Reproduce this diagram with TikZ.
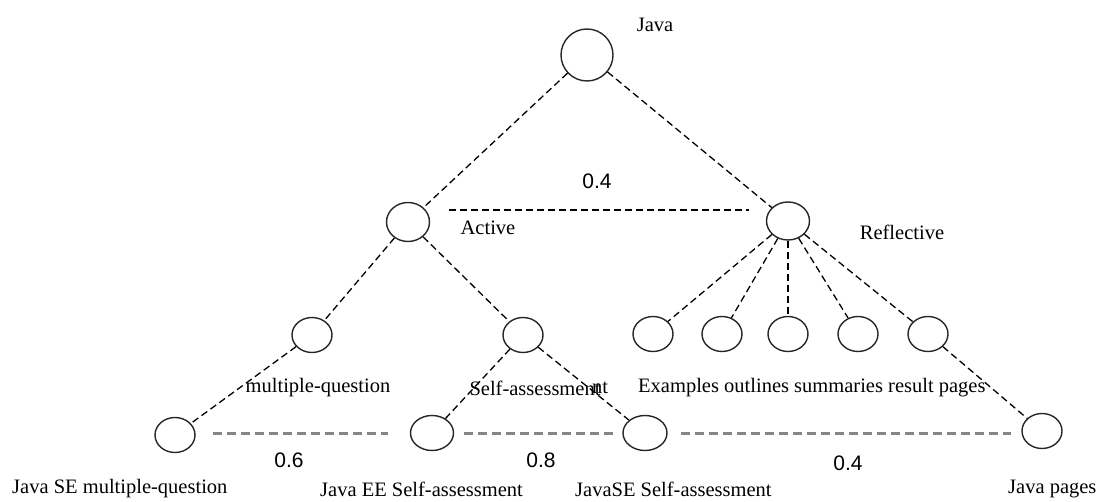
\documentclass[tikz,border=0pt]{standalone}
\usepackage{fontspec}
\setmainfont{Liberation Serif}
\newfontfamily\numfont{Liberation Sans}
\usetikzlibrary{math}
\usetikzlibrary{shapes.geometric}

\begin{document}
\begin{tikzpicture}[x=1pt,y=-1pt,
  leaf/.style={draw=black!85,line width=1.4pt,ellipse,inner sep=0pt,minimum width=40pt,minimum height=35pt},
  treeedge/.style={line width=1.3pt,dash pattern=on 7pt off 4pt},
  weightedge/.style={draw=gray!95,line width=3pt,dash pattern=on 9pt off 5pt},
  lbl/.style={font=\fontsize{20.5}{24}\selectfont,inner sep=0pt},
  wlbl/.style={font=\numfont\fontsize{21}{24}\selectfont,inner sep=0pt}]
\useasboundingbox (0,0) rectangle (1105,502);
%%%% levels
\tikzmath{
\ya=222;
\yb=335;
\yc=433;
\ylab=388;
\ybot=489;
}
%%%%%%  root
\node[leaf,minimum width=52pt,minimum height=52pt] (java) at (587,55) {};
\node[lbl] (javalbl) at (655,25) {Java};
%%%%%%  learning styles
\node[leaf,minimum width=43pt,minimum height=39pt] (active) at (408,\ya) {};
\node[leaf,minimum width=43pt,minimum height=38pt] (reflective) at (788,\ya-1) {};
\node[lbl] (activelbl) at (488,228) {Active};
\node[lbl] (reflectivelbl) at (902,232) {Reflective};
\node[wlbl] (wtop) at (597,181) {0.4};
\draw[treeedge] (java) -- (active);
\draw[treeedge] (java) -- (reflective);
\draw[treeedge] ([xshift=19pt,yshift=12pt]active.east) -- ([xshift=-17pt,yshift=11pt]reflective.west);
%%%%%%  resource types
\node[leaf] (mq) at (312,\yb) {};
\node[leaf] (sa) at (523,\yb) {};
\foreach \i/\x in {1/653,2/722,3/788,4/858,5/928} {
    \node[leaf] (r\i) at (\x,\yb-1) {};
    \draw[treeedge] (reflective) -- (r\i);
}
\draw[treeedge] (active) -- (mq);
\draw[treeedge] (active) -- (sa);
\node[lbl] (mqlbl) at (318,\ylab) {multiple-question};
\node[lbl] (salbl) at (535,\ylab) {Self-assessment};
\node[lbl] (ntlbl) at (600,\ylab) {nt};
\node[lbl,anchor=west] (reslbl) at (638,\ylab) {Examples outlines summaries result pages};
%%%%%%  learning objects
\node[leaf] (jse) at (175,\yc+2) {};
\node[leaf,minimum width=43pt] (jee) at (432,\yc) {};
\node[leaf,minimum width=44pt] (jsse) at (645,\yc) {};
\node[leaf] (jp) at (1042,\yc-2) {};
\draw[treeedge] (mq) -- (jse);
\draw[treeedge] (sa) -- (jee);
\draw[treeedge] (sa) -- (jsse);
\draw[treeedge] (r5) -- (jp);
%%%% similarity
\draw[weightedge,shorten <=17pt,shorten >=22pt] (jse.east |- jee) -- (jee);
\draw[weightedge,shorten <=10pt,shorten >=8pt] (jee) -- (jsse);
\draw[weightedge,shorten <=13pt,shorten >=10pt] (jsse) -- (jp.west |- jsse);
\node[wlbl] (w1) at (289,460) {0.6};
\node[wlbl] (w2) at (541,460) {0.8};
\node[wlbl] (w3) at (848,463) {0.4};
%%%% names
\node[lbl,anchor=west] (jselbl) at (12,\ybot) {Java SE multiple-question};
\node[lbl,anchor=west] (jeelbl) at (320,\ybot) {Java EE Self-assessment};
\node[lbl,anchor=west] (jsselbl) at (575,\ybot) {JavaSE Self-assessment};
\node[lbl,anchor=west] (jplbl) at (1008,\ybot) {Java pages};
\end{tikzpicture}
\end{document}
